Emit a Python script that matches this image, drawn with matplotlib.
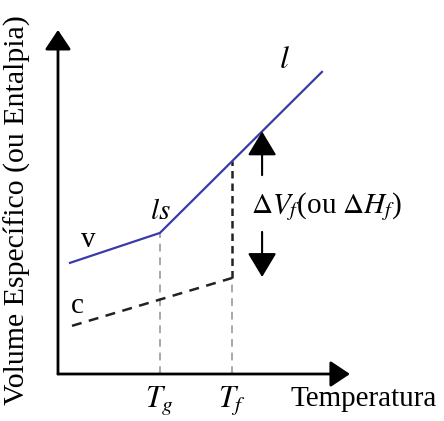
import matplotlib
matplotlib.use("Agg")
import matplotlib.pyplot as plt

plt.rcParams['font.family'] = ['Liberation Serif', 'DejaVu Serif']
plt.rcParams['mathtext.fontset'] = 'stix'

# curve break points (temperature, specific volume) in arbitrary units
T_glass = [0.41, 3.49, 9.04]        # start, Tg, end of the liquid / glass line
V_glass = [3.23, 4.10, 8.78]
T_cryst = [0.48, 5.96]              # crystal line, up to Tf
V_cryst = [1.40, 2.79]
Tg = 3.49
Tf = 5.96
V_at_Tf = 6.18                      # liquid volume at Tf
arrow_x = 6.99
arrow_up = (5.78, 7.05)
arrow_down = (4.13, 2.82)

blue = '#3b3ba8'
grey = '#a8a8a8'

fig = plt.figure(figsize=(4.44, 4.21), dpi=100)
ax = fig.add_axes([0, 0, 1, 1])
ax.set_xlim(-1.986, 13.22)
ax.set_ylim(-1.366, 10.87)
ax.axis('off')

# axes with arrow heads
axis_arrow = dict(arrowstyle='-|>,head_length=0.6,head_width=0.4', lw=2,
                  color='black', mutation_scale=20, shrinkA=0, shrinkB=0)
ax.annotate('', xy=(10.0, 0), xytext=(0, 0), arrowprops=axis_arrow)
ax.annotate('', xy=(0, 10.0), xytext=(0, 0), arrowprops=axis_arrow)

# guide lines down to the temperature axis
ax.plot([Tg, Tg], [0, V_glass[1]], color=grey, lw=1.4, ls=(0, (4, 3)))
ax.plot([Tf, Tf], [0, V_cryst[1]], color=grey, lw=1.4, ls=(0, (4, 3)))

# crystal line and the jump at Tf
ax.plot(T_cryst, V_cryst, color='#222222', lw=1.8, ls=(0, (4, 3)))
ax.plot([Tf, Tf], [V_cryst[1], V_at_Tf], color='#222222', lw=1.8,
        ls=(0, (3, 2)))

# liquid / glass line
ax.plot(T_glass, V_glass, color=blue, lw=1.6)

# delta V arrows
dv_arrow = dict(arrowstyle='-|>,head_length=0.75,head_width=0.45', lw=1.5,
                color='black', mutation_scale=20, shrinkA=0, shrinkB=0)
ax.annotate('', xy=(arrow_x, arrow_up[1]), xytext=(arrow_x, arrow_up[0]),
            arrowprops=dv_arrow)
ax.annotate('', xy=(arrow_x, arrow_down[1]), xytext=(arrow_x, arrow_down[0]),
            arrowprops=dv_arrow)

fs = 21
ax.text(6.60, 4.85, r'$\Delta V_f$(ou $\Delta H_f$)', fontsize=fs,
        ha='left', va='center')
ax.text(7.74, 9.10, r'$l$', fontsize=fs + 2, ha='center', va='center')
ax.text(3.49, 4.71, r'$ls$', fontsize=fs, ha='center', va='center')
ax.text(1.03, 3.90, 'v', fontsize=fs, ha='center', va='center')
ax.text(0.68, 1.98, 'c', fontsize=fs, ha='center', va='center')
ax.text(Tg, -0.78, r'$T_g$', fontsize=fs + 1, ha='center', va='center')
ax.text(Tf, -0.78, r'$T_f$', fontsize=fs + 1, ha='center', va='center')
ax.text(7.98, -0.72, 'Temperatura', fontsize=fs, ha='left', va='center')
ax.text(-1.40, 4.77, 'Volume Específico (ou Entalpia)', fontsize=fs + 0.5,
        ha='center', va='center', rotation=90)

fig.savefig('out.png', dpi=100)
